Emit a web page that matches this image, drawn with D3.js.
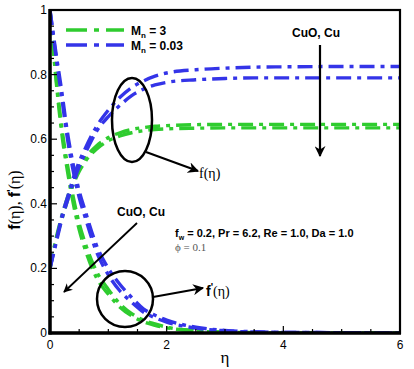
<!DOCTYPE html>
<html>
<head>
<meta charset="utf-8">
<script src="https://cdn.jsdelivr.net/npm/d3@7"></script>
<style>
  html, body { margin: 0; padding: 0; background: #fff; }
  svg { display: block; }
  text { font-family: "Liberation Sans", Arial, sans-serif; }
  .serif { font-family: "Liberation Serif", "Times New Roman", serif; }
</style>
</head>
<body>
<div id="chart"></div>
<script>
// ─── data ────────────────────────────────────────────────────────────────────
const eta = [0, 0.1, 0.2, 0.3, 0.4, 0.5, 0.6, 0.8, 1.0, 1.2, 1.4, 1.6, 1.8, 2.0, 2.5, 3, 3.5, 4, 5, 6];

// f(eta)
const fBlueCuO  = [0.2, 0.28, 0.36, 0.42, 0.48, 0.53, 0.57, 0.64, 0.69, 0.73, 0.76, 0.78, 0.795, 0.805, 0.815, 0.82, 0.823, 0.824, 0.825, 0.825];
const fBlueCu   = [0.2, 0.275, 0.35, 0.41, 0.465, 0.515, 0.555, 0.625, 0.67, 0.705, 0.735, 0.755, 0.768, 0.776, 0.784, 0.788, 0.79, 0.79, 0.79, 0.79];
const fGreenCuO = [0.2, 0.29, 0.36, 0.42, 0.47, 0.51, 0.54, 0.58, 0.605, 0.62, 0.63, 0.636, 0.64, 0.642, 0.645, 0.646, 0.646, 0.646, 0.646, 0.646];
const fGreenCu  = [0.2, 0.285, 0.35, 0.41, 0.46, 0.5, 0.53, 0.57, 0.595, 0.61, 0.62, 0.626, 0.63, 0.632, 0.634, 0.635, 0.635, 0.635, 0.635, 0.635];

// f'(eta)
const dfBlueCuO  = [1.0, 0.87, 0.75, 0.62, 0.52, 0.44, 0.38, 0.27, 0.2, 0.15, 0.11, 0.075, 0.055, 0.04, 0.018, 0.008, 0.004, 0.002, 0.001, 0];
const dfBlueCu   = [1.0, 0.86, 0.73, 0.6, 0.5, 0.42, 0.36, 0.25, 0.18, 0.13, 0.095, 0.065, 0.047, 0.034, 0.015, 0.007, 0.003, 0.002, 0.001, 0];
const dfGreenCuO = [1.0, 0.8, 0.64, 0.52, 0.42, 0.34, 0.28, 0.19, 0.135, 0.09, 0.06, 0.04, 0.028, 0.018, 0.007, 0.003, 0.001, 0, 0, 0];
const dfGreenCu  = [1.0, 0.79, 0.62, 0.5, 0.4, 0.32, 0.26, 0.17, 0.12, 0.08, 0.053, 0.035, 0.024, 0.016, 0.006, 0.002, 0.001, 0, 0, 0];

const xTicks = [0, 2, 4, 6];
const yTicks = [0, 0.2, 0.4, 0.6, 0.8, 1];
const legendLabels = ["3", "0.03"];

const GREEN = "#2fcc2f";
const BLUE = "#3434e8";

// ─── layout ──────────────────────────────────────────────────────────────────
const W = 414, H = 369;
const margin = { left: 50, right: 14, top: 10, bottom: 36 };

const svg = d3.select("#chart").append("svg")
    .attr("width", W)
    .attr("height", H);

const x = d3.scaleLinear().domain([0, 6]).range([margin.left, W - margin.right]);
const y = d3.scaleLinear().domain([0, 1]).range([H - margin.bottom, margin.top]);

svg.append("defs").append("clipPath").attr("id", "clip")
    .append("rect")
    .attr("x", x(0)).attr("y", y(1))
    .attr("width", x(6) - x(0)).attr("height", y(0) - y(1));

svg.append("defs").append("marker")
    .attr("id", "head")
    .attr("viewBox", "0 0 10 10")
    .attr("refX", 9).attr("refY", 5)
    .attr("markerWidth", 5).attr("markerHeight", 5)
    .attr("orient", "auto")
    .append("path")
    .attr("d", "M0,0 L10,5 L0,10 L3,5 Z")
    .attr("fill", "#000");

// ─── curves ──────────────────────────────────────────────────────────────────
const line = d3.line()
    .x((d, i) => x(eta[i]))
    .y(d => y(d))
    .curve(d3.curveMonotoneX);

const series = [
    { v: fGreenCuO, c: GREEN }, { v: fGreenCu, c: GREEN },
    { v: dfGreenCuO, c: GREEN }, { v: dfGreenCu, c: GREEN },
    { v: fBlueCuO, c: BLUE }, { v: fBlueCu, c: BLUE },
    { v: dfBlueCuO, c: BLUE }, { v: dfBlueCu, c: BLUE }
];

const g = svg.append("g").attr("clip-path", "url(#clip)");
g.selectAll("path.curve")
    .data(series)
    .join("path")
    .attr("class", "curve")
    .attr("d", d => line(d.v))
    .attr("fill", "none")
    .attr("stroke", d => d.c)
    .attr("stroke-width", 3.4)
    .attr("stroke-dasharray", "15,6,4,6");

// ─── axes ────────────────────────────────────────────────────────────────────
const axes = svg.append("g");

// minor + major ticks (inward)
axes.selectAll("line.ymin")
    .data(d3.range(0, 1.001, 0.05))
    .join("line")
    .attr("x1", x(0)).attr("x2", d => x(0) + (Math.abs(d * 5 - Math.round(d * 5)) < 1e-6 ? 7 : 4))
    .attr("y1", d => y(d)).attr("y2", d => y(d))
    .attr("stroke", "#000").attr("stroke-width", 1.2);

axes.selectAll("line.xmin")
    .data(d3.range(0, 6.001, 0.5))
    .join("line")
    .attr("y1", y(0)).attr("y2", d => y(0) - (d % 2 === 0 ? 7 : 4))
    .attr("x1", d => x(d)).attr("x2", d => x(d))
    .attr("stroke", "#000").attr("stroke-width", 1.2);

// frame
axes.append("rect")
    .attr("x", x(0)).attr("y", y(1))
    .attr("width", x(6) - x(0)).attr("height", y(0) - y(1))
    .attr("fill", "none")
    .attr("stroke", "#000").attr("stroke-width", 2.2);
axes.append("line")
    .attr("x1", x(0)).attr("x2", x(0)).attr("y1", y(1) - 1).attr("y2", y(0) + 1.5)
    .attr("stroke", "#000").attr("stroke-width", 3.5);
axes.append("line")
    .attr("x1", x(0) - 1.5).attr("x2", x(6) + 1).attr("y1", y(0)).attr("y2", y(0))
    .attr("stroke", "#000").attr("stroke-width", 3.5);

axes.selectAll("text.ytick")
    .data(yTicks)
    .join("text")
    .attr("x", x(0) - 3)
    .attr("y", d => y(d) + 4)
    .attr("text-anchor", "end")
    .attr("font-size", 12)
    .text(d => d3.format("~g")(d));

axes.selectAll("text.xtick")
    .data(xTicks)
    .join("text")
    .attr("x", d => x(d))
    .attr("y", y(0) + 16)
    .attr("text-anchor", "middle")
    .attr("font-size", 12)
    .text(d => d);

svg.append("text")
    .attr("class", "serif")
    .attr("x", (x(0) + x(6)) / 2)
    .attr("y", H - 6)
    .attr("text-anchor", "middle")
    .attr("font-size", 17)
    .text("η");

const yl = svg.append("text")
    .attr("transform", `translate(20, ${200}) rotate(-90)`)
    .attr("text-anchor", "middle")
    .attr("font-size", 16);
yl.append("tspan").attr("font-weight", "bold").text("f");
yl.append("tspan").attr("class", "serif").text("(η), ");
yl.append("tspan").attr("font-weight", "bold").text("f");
yl.append("tspan").attr("font-weight", "bold").attr("font-size", 11).attr("dy", -5).text("'");
yl.append("tspan").attr("class", "serif").attr("dy", 5).text("(η)");

// ─── legend ──────────────────────────────────────────────────────────────────
const legend = svg.append("g");
legendLabels.forEach((lab, i) => {
    const ly = 30 + i * 15;
    legend.append("line")
        .attr("x1", 66).attr("x2", 124).attr("y1", ly).attr("y2", ly)
        .attr("stroke", i === 0 ? GREEN : BLUE)
        .attr("stroke-width", 3.4)
        .attr("stroke-dasharray", "21,7,5,7");
    const t = legend.append("text")
        .attr("x", 131).attr("y", ly + 4.5)
        .attr("font-size", 12).attr("font-weight", "bold");
    t.append("tspan").text("M");
    t.append("tspan").attr("font-size", 8).attr("dy", 3).text("n");
    t.append("tspan").attr("dy", -3).text(" = " + lab);
});

// ─── annotations ─────────────────────────────────────────────────────────────
const ann = svg.append("g");

ann.append("ellipse")
    .attr("cx", 132).attr("cy", 120).attr("rx", 20).attr("ry", 42)
    .attr("fill", "none").attr("stroke", "#000").attr("stroke-width", 2.5);
ann.append("line")
    .attr("x1", 146).attr("y1", 152).attr("x2", 198).attr("y2", 171)
    .attr("stroke", "#000").attr("stroke-width", 2.2)
    .attr("marker-end", "url(#head)");
ann.append("text").attr("x", 199).attr("y", 178).attr("font-size", 14).attr("class", "serif")
    .text("f(η)");

ann.append("circle")
    .attr("cx", 125).attr("cy", 299).attr("r", 28)
    .attr("fill", "none").attr("stroke", "#000").attr("stroke-width", 2.5);
ann.append("line")
    .attr("x1", 153).attr("y1", 297).attr("x2", 203).attr("y2", 288)
    .attr("stroke", "#000").attr("stroke-width", 2.2)
    .attr("marker-end", "url(#head)");
const dl = ann.append("text").attr("x", 206).attr("y", 296).attr("font-size", 14);
dl.append("tspan").attr("font-weight", "bold").text("f");
dl.append("tspan").attr("font-weight", "bold").attr("font-size", 10).attr("dy", -5).text("'");
dl.append("tspan").attr("class", "serif").attr("dy", 5).text("(η)");

ann.append("text")
    .attr("x", 316).attr("y", 37)
    .attr("text-anchor", "middle")
    .attr("font-size", 12).attr("font-weight", "bold")
    .text("CuO, Cu");
ann.append("line")
    .attr("x1", 320).attr("y1", 45).attr("x2", 320).attr("y2", 156)
    .attr("stroke", "#000").attr("stroke-width", 2.2)
    .attr("marker-end", "url(#head)");

ann.append("text")
    .attr("x", 141).attr("y", 216)
    .attr("text-anchor", "middle")
    .attr("font-size", 12).attr("font-weight", "bold")
    .text("CuO, Cu");
ann.append("line")
    .attr("x1", 137).attr("y1", 223).attr("x2", 64).attr("y2", 292)
    .attr("stroke", "#000").attr("stroke-width", 1.8)
    .attr("marker-end", "url(#head)");

const p = ann.append("text").attr("x", 175).attr("y", 237)
    .attr("font-size", 11).attr("font-weight", "bold");
p.append("tspan").text("f");
p.append("tspan").attr("font-size", 7).attr("dy", 3).text("w");
p.append("tspan").attr("dy", -3).text(" = 0.2, Pr = 6.2,  Re = 1.0, Da = 1.0");

ann.append("text")
    .attr("class", "serif")
    .attr("x", 175).attr("y", 251)
    .attr("font-size", 11).attr("fill", "#555")
    .text("ϕ = 0.1");
</script>
</body>
</html>
